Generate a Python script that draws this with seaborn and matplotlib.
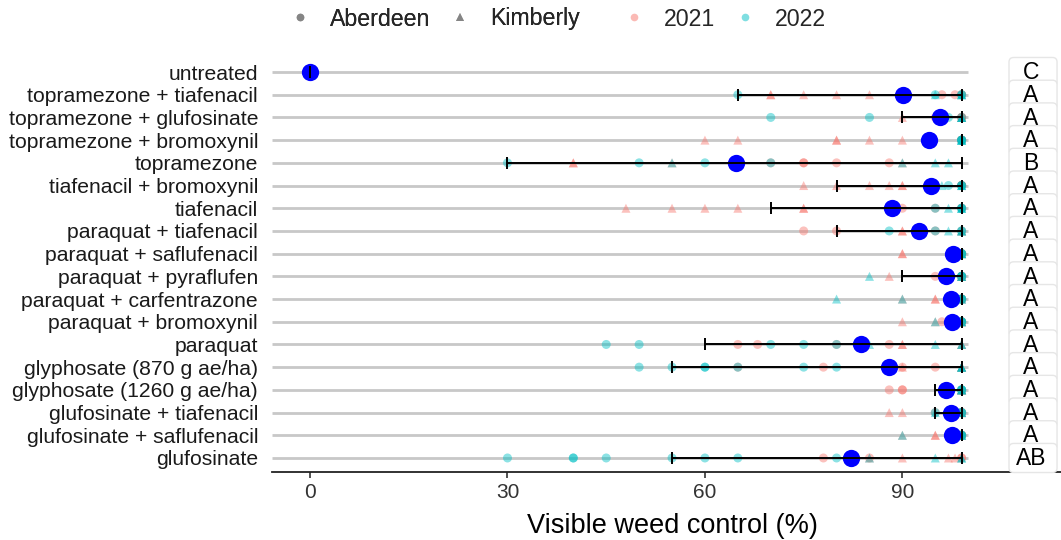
import matplotlib
matplotlib.use("Agg")
import matplotlib.pyplot as plt
from matplotlib.lines import Line2D
from matplotlib.patches import FancyBboxPatch
import seaborn as sns
import pandas as pd
import numpy as np

treatments = [
    "untreated",
    "topramezone + tiafenacil",
    "topramezone + glufosinate",
    "topramezone + bromoxynil",
    "topramezone",
    "tiafenacil + bromoxynil",
    "tiafenacil",
    "paraquat + tiafenacil",
    "paraquat + saflufenacil",
    "paraquat + pyraflufen",
    "paraquat + carfentrazone",
    "paraquat + bromoxynil",
    "paraquat",
    "glyphosate (870 g ae/ha)",
    "glyphosate (1260 g ae/ha)",
    "glufosinate + tiafenacil",
    "glufosinate + saflufenacil",
    "glufosinate",
]

# individual plot ratings, grouped by location and year
aberdeen_2021 = [
    [0, 0, 0, 0], [96, 98, 99, 99], [95, 99, 99, 99], [99, 99, 99, 99],
    [70, 75, 75, 80, 88], [99, 99, 99, 99], [90, 95, 99, 99], [75, 80, 95, 99],
    [99, 99, 99, 99], [95, 99, 99, 99], [99, 99, 99, 99], [96, 99, 99, 99],
    [65, 68, 80, 88], [65, 78, 90, 95], [88, 90, 90, 99], [95, 99, 99, 99],
    [99, 99, 99, 99], [78, 85, 99, 99],
]
aberdeen_2022 = [
    [0, 0, 0, 0], [65, 95, 99, 99], [70, 85, 97, 99], [99, 99, 99, 99],
    [30, 50, 60, 70], [97, 99, 99, 99], [95, 99, 99, 99], [88, 95, 99, 99],
    [99, 99, 99, 99], [99, 99, 99, 99], [99, 99, 99, 99], [99, 99, 99, 99],
    [45, 50, 70, 75, 80], [50, 55, 60, 60, 65, 75, 80], [99, 99, 99, 99],
    [95, 99, 99, 99], [99, 99, 99, 99], [30, 40, 40, 45, 55, 60, 65, 80],
]
kimberly_2021 = [
    [0, 0, 0, 0], [70, 70, 75, 80, 85], [90, 99, 99, 99], [60, 65, 80, 80, 85, 90],
    [40, 40, 55, 90], [75, 80, 85, 88, 90, 90], [48, 55, 60, 65, 75, 75],
    [90, 90, 99, 99], [90, 90, 99, 99], [88, 99, 99, 99], [90, 95, 95, 99],
    [90, 95, 99, 99], [90, 90, 99, 99], [90, 99, 99, 99], [99, 99, 99, 99],
    [88, 90, 99, 99], [90, 95, 95, 99], [85, 90, 97, 98],
]
kimberly_2022 = [
    [0, 0, 0, 0], [95, 99, 99, 99], [99, 99, 99, 99], [99, 99, 99, 99],
    [55, 90, 95, 97], [96, 99, 99, 99], [97, 99, 99, 99], [97, 99, 99, 99],
    [99, 99, 99, 99], [85, 99, 99, 99], [80, 90, 99, 99], [95, 99, 99, 99],
    [85, 95, 99, 99], [99, 99, 99, 99], [99, 99, 99, 99], [95, 99, 99, 99],
    [90, 99, 99, 99], [85, 95, 99, 99],
]

# treatment means and interval ends
means = [0, 90.1, 95.7, 94.1, 64.7, 94.4, 88.4, 92.6, 97.7, 96.6, 97.4, 97.6,
         83.7, 88.0, 96.6, 97.4, 97.6, 82.2]
lower = [0, 65, 90, 99, 30, 80, 70, 80, 99, 90, 99, 99, 60, 55, 95, 95, 99, 55]
upper = [0, 99, 99, 99, 99, 99, 99, 99, 99, 99, 99, 99, 99, 99, 99, 99, 99, 99]
letters = ["C", "A", "A", "A", "B", "A", "A", "A", "A", "A", "A", "A", "A",
           "A", "A", "A", "A", "AB"]

locations = ["Aberdeen", "Kimberly"]
years = ["2021", "2022"]
year_colors = ["#F8766D", "#00BFC4"]

# build long table
rows = []
for loc, yr, grp in [("Aberdeen", "2021", aberdeen_2021), ("Aberdeen", "2022", aberdeen_2022),
                     ("Kimberly", "2021", kimberly_2021), ("Kimberly", "2022", kimberly_2022)]:
    for t, vals in zip(treatments, grp):
        for v in vals:
            rows.append({"treatment": t, "location": loc, "year": yr, "control": v})
df = pd.DataFrame(rows)
summary = pd.DataFrame({"treatment": treatments, "mean": means,
                        "lower": lower, "upper": upper, "letter": letters})

sns.set_theme(style="white")
plt.rcParams["font.family"] = ["Liberation Sans", "DejaVu Sans"]

W, H = 1061, 540
fig = plt.figure(figsize=(W / 100, H / 100), dpi=100)
ax_left, ax_right, ax_top, ax_bot = 272, 1061, 58.4, 471.6
ax = fig.add_axes([ax_left / W, 1 - ax_bot / H, (ax_right - ax_left) / W, (ax_bot - ax_top) / H])

pos = np.arange(len(treatments))
xmin, xmax = -5.78, 114.1

ax.hlines(pos, xmin, 100, color="#c8c8c8", lw=2.0, zorder=1)

sns.scatterplot(data=df, x="control", y="treatment", hue="year", style="location",
                hue_order=years, style_order=locations,
                palette=dict(zip(years, year_colors)),
                markers={"Aberdeen": "o", "Kimberly": "^"},
                s=42, alpha=0.45, linewidth=0, legend=False, ax=ax, zorder=2)

sns.scatterplot(data=summary, x="mean", y="treatment", color="#0000FF", s=155,
                linewidth=0, legend=False, ax=ax, zorder=3)

ax.errorbar(summary["lower"], pos, xerr=[np.zeros(len(pos)), summary["upper"] - summary["lower"]],
            fmt="none", ecolor="black", elinewidth=1.4, capsize=4.2, capthick=1.4, zorder=4)

# letter labels
for i, let in enumerate(letters):
    box = FancyBboxPatch((106.2, i - 0.64), 7.3, 1.28,
                         boxstyle="round,pad=0,rounding_size=0.7",
                         mutation_aspect=0.29, facecolor="white", edgecolor="#e6e6e6",
                         lw=1.0, zorder=5 + i * 0.01, clip_on=False)
    ax.add_patch(box)
    ax.text(109.5, i + 0.03, let, ha="center", va="center", fontsize=16.5,
            color="black", zorder=5.005 + i * 0.01)

ax.set_xlim(xmin, xmax)
ax.set_xticks([0, 30, 60, 90])
ax.set_xticklabels(["0", "30", "60", "90"])
ax.tick_params(axis="x", length=4, width=1.2, color="#333333", labelsize=15,
               labelcolor="#333333", pad=4, bottom=True)
ax.tick_params(axis="y", length=0, labelsize=15.2, labelcolor="#1a1a1a", pad=10)
ax.set_ylabel("")
ax.set_xlabel("Visible weed control (%)", fontsize=19.5, color="black")
ax.xaxis.set_label_coords((672 - ax_left) / (ax_right - ax_left), -0.1)
for s in ["top", "right", "left"]:
    ax.spines[s].set_visible(False)
ax.spines["bottom"].set_color("#222222")
ax.spines["bottom"].set_linewidth(1.3)
ax.set_ylim(len(treatments) - 1 + 0.6, -0.6)

# legends
fs = 16.7
shape_handles = [Line2D([], [], marker=m, ls="", color="#808080", alpha=0.8, markersize=5.5,
                        markeredgewidth=0) for m in ["o", "^"]]
color_handles = [Line2D([], [], marker="o", ls="", color=c, alpha=0.5, markersize=5.5,
                        markeredgewidth=0) for c in year_colors]
common = dict(frameon=False, fontsize=fs, handletextpad=0.79, columnspacing=0.79,
              handlelength=1.0, borderpad=0.2)
leg1 = fig.legend(shape_handles, locations, ncol=2, loc="center",
                  bbox_to_anchor=(434 / W, 1 - 19 / H), **common)
leg2 = fig.legend(color_handles, years, ncol=2, loc="center",
                  bbox_to_anchor=(724 / W, 1 - 19 / H), **common)
fig.add_artist(leg1)

fig.savefig("out.png", dpi=100)
